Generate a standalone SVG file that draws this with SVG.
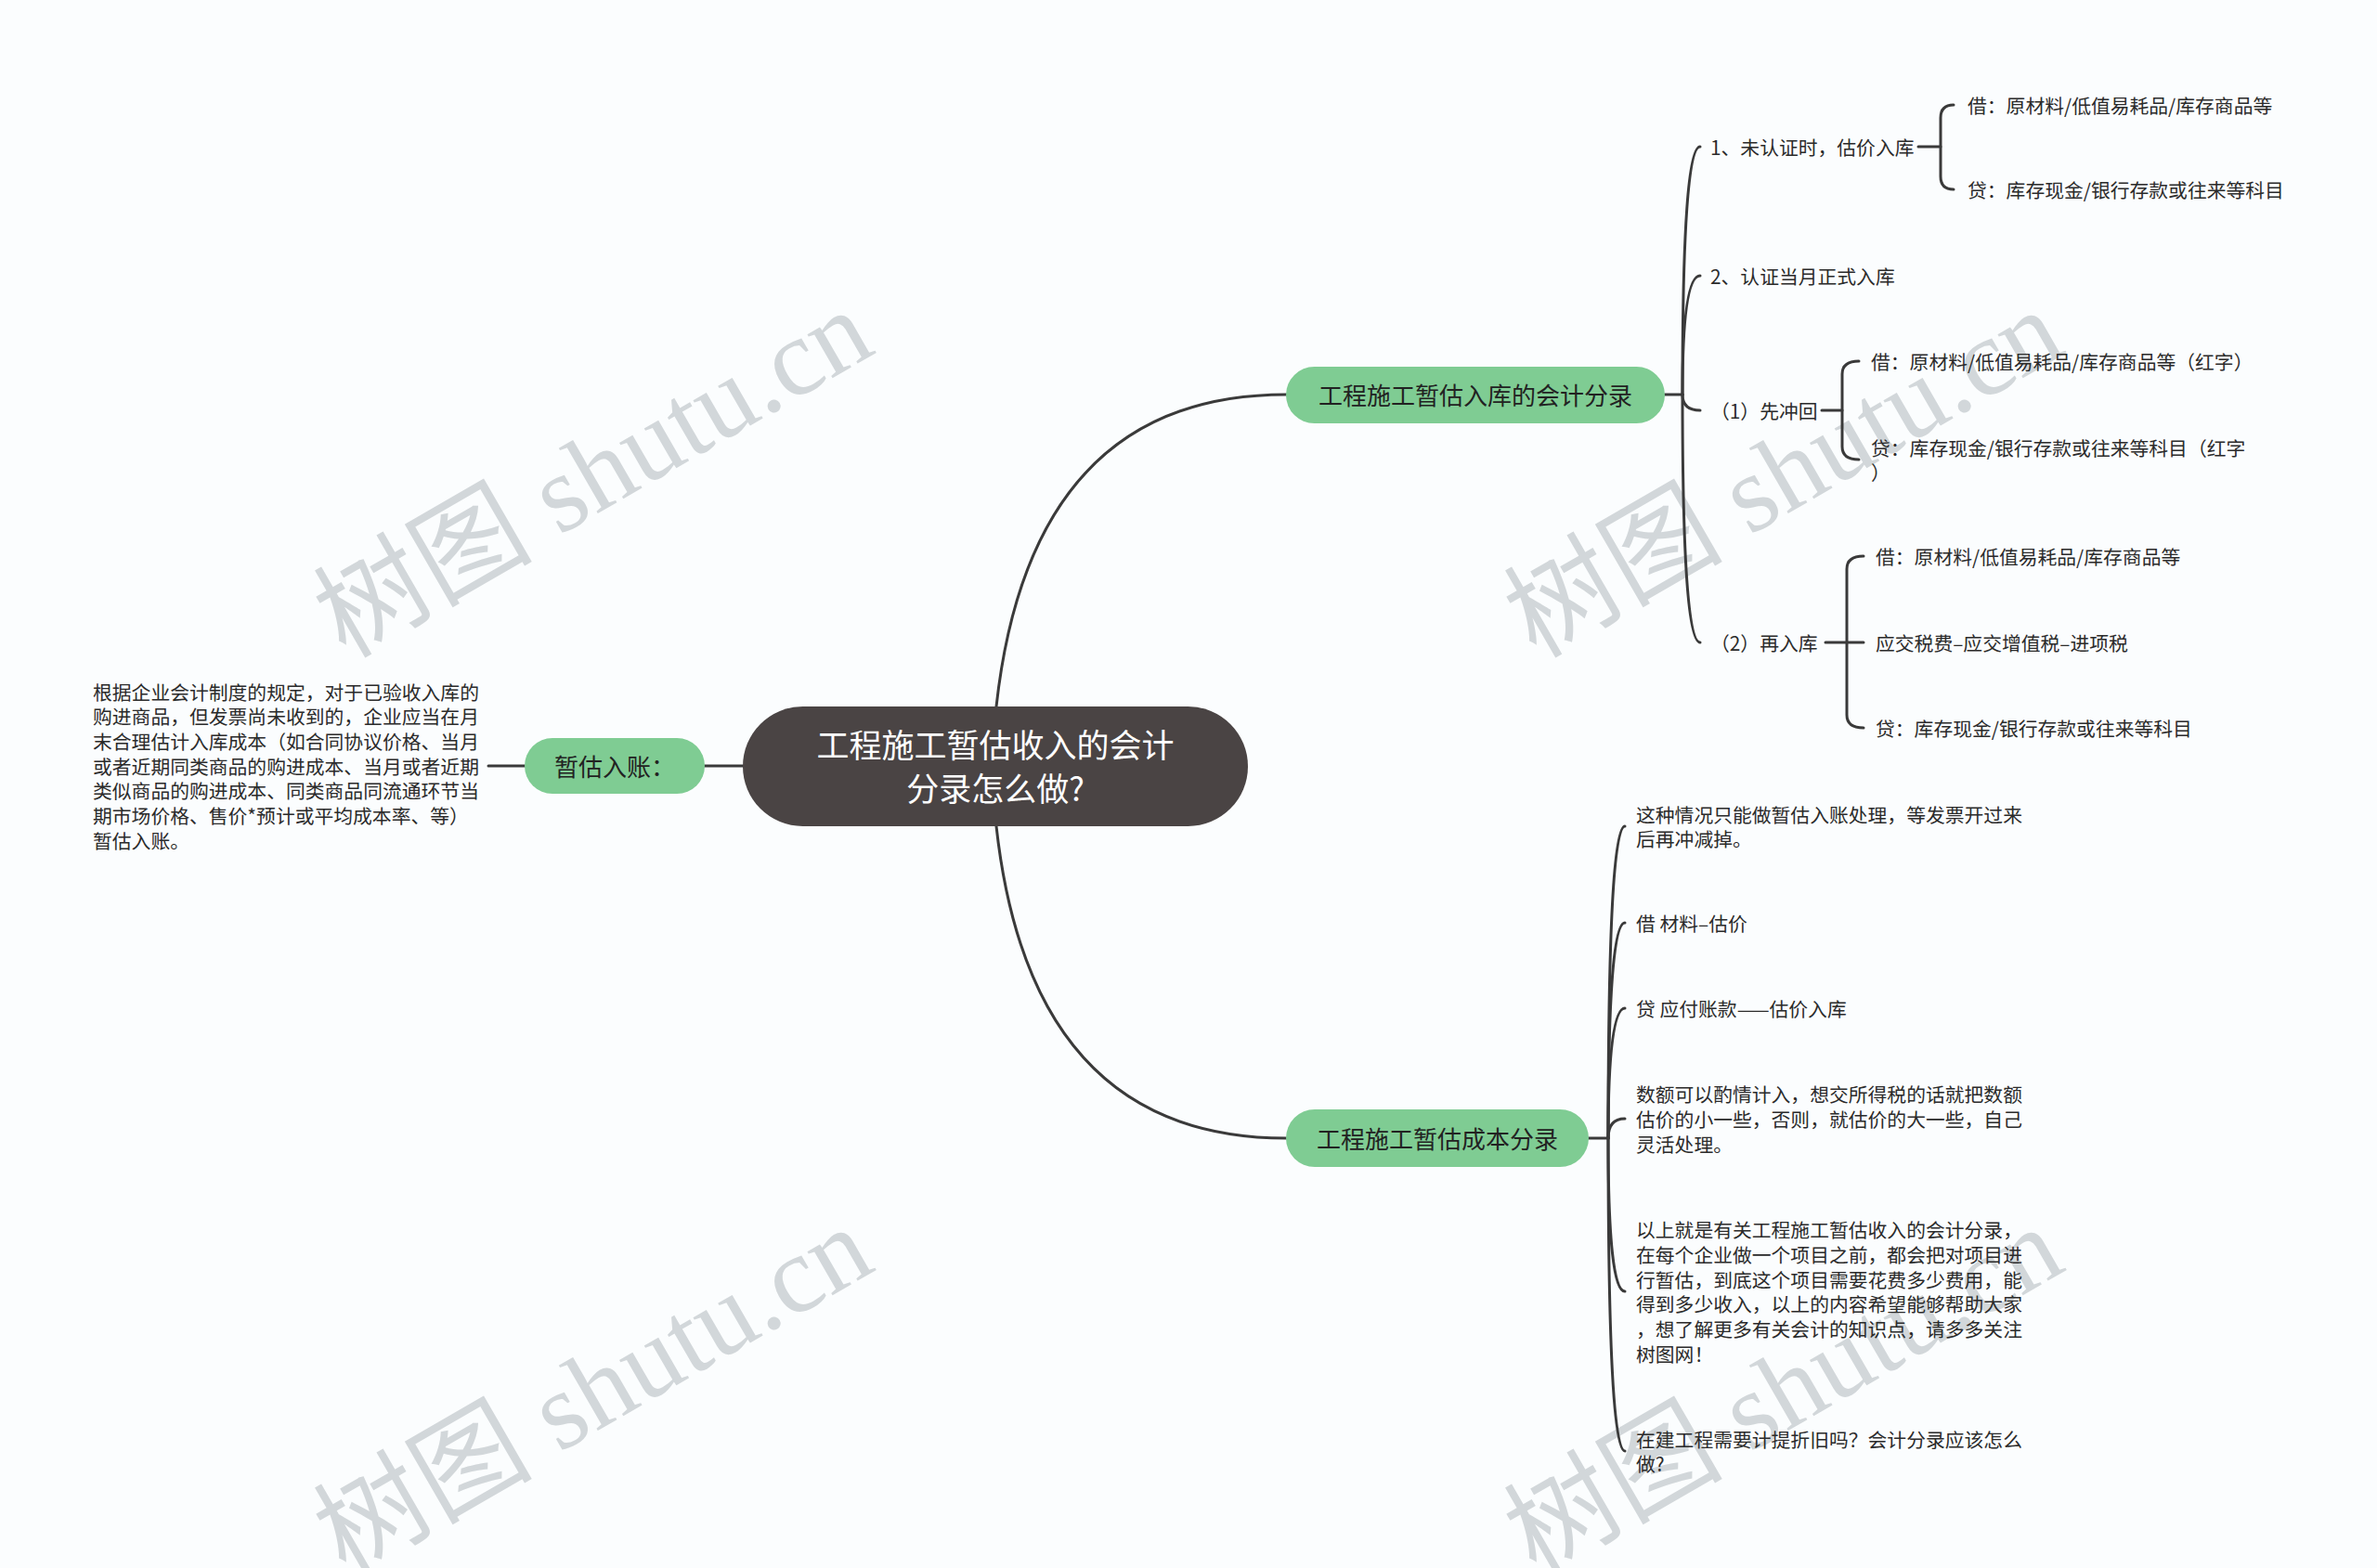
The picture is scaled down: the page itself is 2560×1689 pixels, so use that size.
<svg xmlns="http://www.w3.org/2000/svg" width="2560" height="1689" viewBox="0 0 2560 1689">
<style>
.wm{font-family:"Liberation Serif","Noto Sans CJK SC",serif;font-size:118px;fill:#d2d7da}
.leaf{font-family:"Noto Sans CJK SC",sans-serif;font-size:20.8px;fill:#2b2b2b;dominant-baseline:central}
.lbl{font-family:"Noto Sans CJK SC",sans-serif;font-size:26px;fill:#222;dominant-baseline:central;text-anchor:middle}
.ctr{font-family:"Noto Sans CJK SC",sans-serif;font-size:35px;fill:#ffffff;dominant-baseline:central;text-anchor:middle}
.green{fill:#7fcc93}
.conn path{fill:none;stroke:#3a3a3a;stroke-width:3;stroke-linecap:round}
</style>
<rect width="2560" height="1689" fill="#fbfdfe"/>
<g id="watermarks">
<text class="wm" transform="translate(372,710) rotate(-30)">树图 shutu.cn</text>
<text class="wm" transform="translate(1654,710) rotate(-30)">树图 shutu.cn</text>
<text class="wm" transform="translate(372,1698) rotate(-30)">树图 shutu.cn</text>
<text class="wm" transform="translate(1654,1698) rotate(-30)">树图 shutu.cn</text>
</g>
<g id="connectors" class="conn">
<path d="M1073,761 Q1110,425 1385,425"/>
<path d="M1073,890 Q1110,1226 1385,1226"/>
<path d="M800,825 H759"/>
<path d="M565,825 H526"/>
<path d="M1793,425 H1812"/>
<path d="M1812,425 Q1812,158 1831,158"/>
<path d="M1812,425 Q1812,297 1831,297"/>
<path d="M1812,425 Q1812,442 1831,442"/>
<path d="M1812,425 Q1812,692 1831,692"/>
<path d="M2066,158 H2090"/>
<path d="M2104,113 Q2090,113 2090,127 V190 Q2090,204 2104,204"/>
<path d="M1962,442 H1984"/>
<path d="M2002,389 Q1984,389 1984,403 V481 Q1984,495 2002,495"/>
<path d="M1966,692 H2007"/>
<path d="M2007,599 Q1989,599 1989,613 V770 Q1989,784 2007,784"/>
<path d="M1711,1226 H1732"/>
<path d="M1732,1226 Q1732,890 1750,890"/>
<path d="M1732,1226 Q1732,994 1750,994"/>
<path d="M1732,1226 Q1732,1086 1750,1086"/>
<path d="M1732,1226 Q1732,1205 1750,1205"/>
<path d="M1732,1226 Q1732,1391 1750,1391"/>
<path d="M1732,1226 Q1732,1563 1750,1563"/>
</g>
<g id="root">
<rect x="800" y="761" width="544" height="129" rx="64.5" fill="#4a4444"/>
<text class="ctr" x="1072" y="800">工程施工暂估收入的会计</text>
<text class="ctr" x="1072" y="847">分录怎么做?</text>
</g>
<g id="node-left">
<rect class="green" x="565" y="795" width="194" height="60" rx="30"/>
<text class="lbl" x="662" y="824">暂估入账：</text>
</g>
<g id="node-left-text">
<text class="leaf" x="100" y="744.5">根据企业会计制度的规定，对于已验收入库的</text>
<text class="leaf" x="100" y="771.2">购进商品，但发票尚未收到的，企业应当在月</text>
<text class="leaf" x="100" y="797.9">末合理估计入库成本（如合同协议价格、当月</text>
<text class="leaf" x="100" y="824.6">或者近期同类商品的购进成本、当月或者近期</text>
<text class="leaf" x="100" y="851.3">类似商品的购进成本、同类商品同流通环节当</text>
<text class="leaf" x="100" y="878">期市场价格、售价*预计或平均成本率、等）</text>
<text class="leaf" x="100" y="904.7">暂估入账。</text>
</g>
<g id="node-top">
<rect class="green" x="1385" y="395" width="408" height="61" rx="30.5"/>
<text class="lbl" x="1589" y="424">工程施工暂估入库的会计分录</text>
</g>
<g id="top-1"><text class="leaf" x="1842" y="158">1、未认证时，估价入库</text></g>
<g id="top-1a"><text class="leaf" x="2119" y="113">借：原材料/低值易耗品/库存商品等</text></g>
<g id="top-1b"><text class="leaf" x="2119" y="204">贷：库存现金/银行存款或往来等科目</text></g>
<g id="top-2"><text class="leaf" x="1842" y="297">2、认证当月正式入库</text></g>
<g id="top-3"><text class="leaf" x="1842" y="442">（1）先冲回</text></g>
<g id="top-3a"><text class="leaf" x="2015" y="389">借：原材料/低值易耗品/库存商品等（红字）</text></g>
<g id="top-3b"><text class="leaf" x="2015" y="481.6">贷：库存现金/银行存款或往来等科目（红字</text><text class="leaf" x="2015" y="508.3">）</text></g>
<g id="top-4"><text class="leaf" x="1842" y="692">（2）再入库</text></g>
<g id="top-4a"><text class="leaf" x="2020" y="599">借：原材料/低值易耗品/库存商品等</text></g>
<g id="top-4b"><text class="leaf" x="2020" y="692">应交税费–应交增值税–进项税</text></g>
<g id="top-4c"><text class="leaf" x="2020" y="784">贷：库存现金/银行存款或往来等科目</text></g>
<g id="node-bottom">
<rect class="green" x="1385" y="1195" width="326" height="62" rx="31"/>
<text class="lbl" x="1548" y="1225">工程施工暂估成本分录</text>
</g>
<g id="bot-1"><text class="leaf" x="1762" y="876.6">这种情况只能做暂估入账处理，等发票开过来</text><text class="leaf" x="1762" y="903.3">后再冲减掉。</text></g>
<g id="bot-2"><text class="leaf" x="1762" y="994">借 材料–估价</text></g>
<g id="bot-3"><text class="leaf" x="1762" y="1086">贷 应付账款——估价入库</text></g>
<g id="bot-4"><text class="leaf" x="1762" y="1178.3">数额可以酌情计入，想交所得税的话就把数额</text><text class="leaf" x="1762" y="1205">估价的小一些，否则，就估价的大一些，自己</text><text class="leaf" x="1762" y="1231.7">灵活处理。</text></g>
<g id="bot-5"><text class="leaf" x="1762" y="1324.3">以上就是有关工程施工暂估收入的会计分录，</text><text class="leaf" x="1762" y="1351">在每个企业做一个项目之前，都会把对项目进</text><text class="leaf" x="1762" y="1377.7">行暂估，到底这个项目需要花费多少费用，能</text><text class="leaf" x="1762" y="1404.4">得到多少收入，以上的内容希望能够帮助大家</text><text class="leaf" x="1762" y="1431.1">，想了解更多有关会计的知识点，请多多关注</text><text class="leaf" x="1762" y="1457.8">树图网！</text></g>
<g id="bot-6"><text class="leaf" x="1762" y="1549.6">在建工程需要计提折旧吗？会计分录应该怎么</text><text class="leaf" x="1762" y="1576.3">做?</text></g>
</svg>
